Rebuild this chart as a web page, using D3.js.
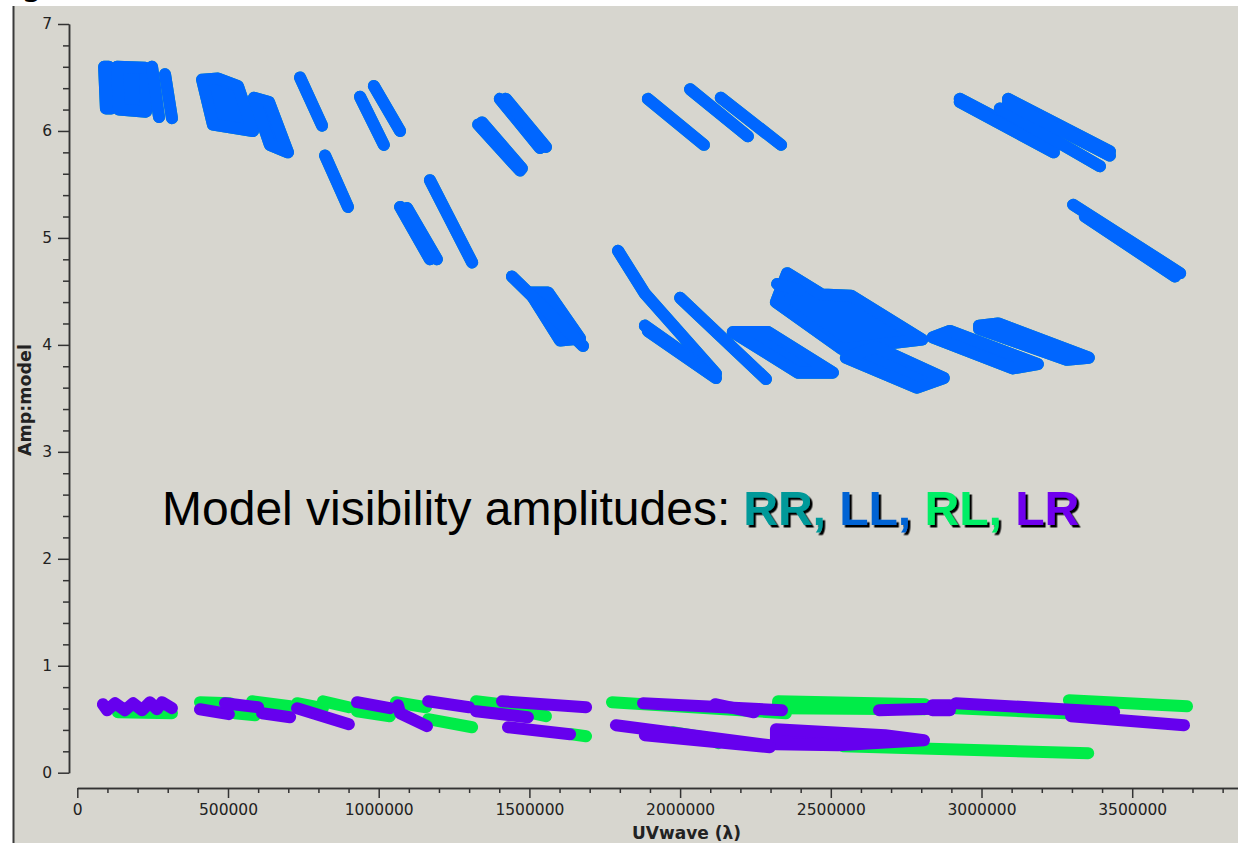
<!DOCTYPE html>
<html><head><meta charset="utf-8">
<script src="https://cdn.jsdelivr.net/npm/d3@7"></script>
<style>
html,body{margin:0;padding:0;background:#fff;}
svg{display:block;}
</style></head>
<body>
<script>
// ---------- data (u in wavelengths, amplitude) ----------
const xTicks = [0, 500000, 1000000, 1500000, 2000000, 2500000, 3000000, 3500000];
const yTicks = [0, 1, 2, 3, 4, 5, 6, 7];
const polNames = ["RR", "LL", "RL", "LR"];

// LL: thin tracks (polylines) and broad bands (closed polygons)
const llLines = [
  [[248000,6.60],[271000,6.13]],
  [[291000,6.53],[314000,6.12]],
  [[739000,6.50],[812000,6.05]],
  [[822000,5.77],[898000,5.29]],
  [[938000,6.32],[1017000,5.87]],
  [[984000,6.42],[1071000,6.00]],
  [[1071000,5.29],[1170000,4.80]],
  [[1094000,5.28],[1193000,4.80]],
  [[1170000,5.54],[1310000,4.77]],
  [[1330000,6.06],[1469000,5.63]],
  [[1343000,6.08],[1475000,5.65]],
  [[1402000,6.30],[1535000,5.84]],
  [[1422000,6.30],[1555000,5.85]],
  [[1442000,4.64],[1678000,3.99]],
  [[1794000,4.88],[1883000,4.48],[2119000,3.73]],
  [[1883000,4.18],[2109000,3.73]],
  [[1893000,4.13],[2119000,3.69]],
  [[2000000,4.44],[2285000,3.68]],
  [[2322000,4.57],[2398000,4.51]],
  [[1893000,6.30],[2079000,5.87]],
  [[2033000,6.39],[2225000,5.95]],
  [[2135000,6.31],[2335000,5.87]],
  [[2928000,6.30],[3240000,5.84]],
  [[2928000,6.27],[3240000,5.80]],
  [[3061000,6.21],[3393000,5.67]],
  [[3088000,6.30],[3426000,5.81]],
  [[3088000,6.26],[3426000,5.77]],
  [[3304000,5.31],[3659000,4.67]],
  [[3343000,5.20],[3642000,4.64]]
];
const llBands = [
  [[89000,6.60],[105000,6.60],[112000,6.21],[95000,6.21]],
  [[132000,6.60],[225000,6.59],[228000,6.18],[138000,6.20]],
  [[414000,6.48],[467000,6.49],[533000,6.42],[583000,6.00],[450000,6.06]],
  [[586000,6.31],[636000,6.27],[699000,5.80],[639000,5.87]],
  [[1502000,4.49],[1562000,4.49],[1668000,4.06],[1602000,4.04]],
  [[2175000,4.12],[2292000,4.12],[2507000,3.74],[2391000,3.74]],
  [[2355000,4.67],[2471000,4.47],[2567000,4.46],[2803000,4.05],[2537000,3.96],[2318000,4.40]],
  [[2650000,3.98],[2875000,3.69],[2786000,3.60],[2550000,3.88]],
  [[2895000,4.13],[3187000,3.82],[3104000,3.78],[2838000,4.07]],
  [[2992000,4.18],[3055000,4.20],[3356000,3.88],[3283000,3.86],[2992000,4.15]]
];
// RR model amplitudes coincide with LL and are hidden beneath them
const rrLines = llLines;
const rrBands = llBands;

// RL (green)
const rlLines = [
  [[135000,0.565],[314000,0.556]],
  [[407000,0.659],[507000,0.650]],
  [[523000,0.556],[590000,0.537]],
  [[580000,0.668],[706000,0.621]],
  [[729000,0.650],[815000,0.603]],
  [[815000,0.668],[901000,0.612]],
  [[928000,0.575],[1037000,0.528]],
  [[1057000,0.659],[1157000,0.612]],
  [[1164000,0.500],[1310000,0.425]],
  [[1323000,0.668],[1495000,0.612]],
  [[1509000,0.556],[1555000,0.528]],
  [[1641000,0.360],[1688000,0.341]],
  [[1774000,0.659],[2351000,0.556]],
  [[2915000,0.603],[3426000,0.537]],
  [[3290000,0.678],[3682000,0.621]],
  [[1976000,0.378],[2096000,0.322]],
  [[2109000,0.304],[2126000,0.276]],
  [[2540000,0.248],[3354000,0.182]]
];
const rlBands = [
  [[2325000,0.668],[2812000,0.640],[2812000,0.593],[2325000,0.603]]
];

// LR (purple)
const lrLines = [
  [[85000,0.640],[99000,0.584],[125000,0.650],[158000,0.584],[185000,0.650],[215000,0.584],[241000,0.659],[264000,0.593],[281000,0.659],[314000,0.603]],
  [[407000,0.593],[503000,0.547]],
  [[490000,0.650],[600000,0.612]],
  [[613000,0.556],[706000,0.519]],
  [[729000,0.603],[901000,0.453]],
  [[928000,0.659],[1037000,0.603]],
  [[1064000,0.631],[1071000,0.556],[1160000,0.435]],
  [[1164000,0.668],[1300000,0.612]],
  [[1323000,0.575],[1495000,0.519]],
  [[1409000,0.668],[1688000,0.612]],
  [[1429000,0.425],[1635000,0.360]],
  [[1877000,0.650],[2338000,0.584]],
  [[2116000,0.640],[2245000,0.565]],
  [[2660000,0.584],[2895000,0.603]],
  [[2915000,0.650],[3440000,0.565]],
  [[3297000,0.584],[3426000,0.556]],
  [[3297000,0.528],[3672000,0.444]],
  [[1787000,0.444],[2298000,0.257]],
  [[1883000,0.350],[2298000,0.238]]
];
const lrBands = [
  [[2837000,0.631],[2895000,0.631],[2895000,0.584],[2837000,0.584]],
  [[2318000,0.407],[2680000,0.350],[2809000,0.304],[2524000,0.257],[2318000,0.266]]
];

// ---------- drawing ----------
const W = 1238, H = 843;
const svg = d3.select("body").append("svg").attr("width", W).attr("height", H);
const defs = svg.append("defs");
const f = defs.append("filter").attr("id", "shadow").attr("x", "-5%").attr("y", "-20%").attr("width", "115%").attr("height", "150%");
f.append("feDropShadow").attr("dx", 2.5).attr("dy", 2.5).attr("stdDeviation", 0.4)
  .attr("flood-color", "#000").attr("flood-opacity", 1);

svg.append("rect").attr("x", 14).attr("y", 6).attr("width", W - 14).attr("height", H - 6).attr("fill", "#d7d6cf");
svg.append("line").attr("x1", 13.5).attr("x2", 13.5).attr("y1", 6).attr("y2", H)
  .attr("stroke", "#3a3a3a").attr("stroke-width", 2);
svg.append("text").attr("x", 21).attr("y", -5).attr("font-family", "DejaVu Sans")
  .attr("font-size", 34).attr("fill", "#000").text("g");

const x = d3.scaleLinear().domain([0, 3850000]).range([77.3, 1237.7]);
const y = d3.scaleLinear().domain([0, 7]).range([772.7, 24]);

const line = d3.line().x(d => x(d[0])).y(d => y(d[1]));
const plot = svg.append("g");

function drawSeries(lines, bands, color) {
  const g = plot.append("g")
    .attr("stroke", color).attr("stroke-width", 12)
    .attr("stroke-linecap", "round").attr("stroke-linejoin", "round");
  g.selectAll("path.band").data(bands).join("path").attr("class", "band")
    .attr("d", d => line(d) + "Z").attr("fill", color);
  g.selectAll("path.ln").data(lines).join("path").attr("class", "ln")
    .attr("d", line).attr("fill", "none");
}
const plotColors = {RR: "#009999", LL: "#0066ff", RL: "#00ec48", LR: "#6600ee"};
drawSeries(rrLines, rrBands, plotColors.RR);
drawSeries(llLines, llBands, plotColors.LL);
drawSeries(rlLines, rlBands, plotColors.RL);
drawSeries(lrLines, lrBands, plotColors.LR);

// axes
const axisColor = "#333";
const yMinor = d3.range(0, 7.0001, 0.2).filter(v => Math.abs(v - Math.round(v)) > 1e-6);
const gy = svg.append("g").attr("transform", "translate(69,0)");
gy.append("g").call(d3.axisLeft(y).tickValues(yMinor).tickSize(6).tickSizeOuter(0).tickFormat(""));
gy.append("g").call(d3.axisLeft(y).tickValues(yTicks).tickSize(11).tickSizeOuter(0).tickPadding(6).tickFormat(d3.format("d")));

const xMinor = d3.range(0, 3850000, 100000).filter(v => v % 500000 !== 0);
const gx = svg.append("g").attr("transform", "translate(0,788)");
gx.append("g").call(d3.axisBottom(x).tickValues(xMinor).tickSize(5).tickSizeOuter(0).tickFormat(""));
gx.append("g").call(d3.axisBottom(x).tickValues(xTicks).tickSize(10).tickSizeOuter(0).tickPadding(6).tickFormat(d3.format("d")));

svg.selectAll(".domain, .tick line").attr("stroke", axisColor).attr("stroke-width", 1.5);
svg.selectAll(".tick text").attr("font-family", "DejaVu Sans").attr("font-size", 15.5).attr("fill", "#222");

svg.append("text").attr("x", 741).attr("y", 839).attr("text-anchor", "end")
  .attr("font-family", "DejaVu Sans").attr("font-weight", "bold").attr("font-size", 17)
  .attr("fill", "#222").text("UVwave (λ)");
svg.append("text").attr("transform", "translate(31,400) rotate(-90)").attr("text-anchor", "middle")
  .attr("font-family", "DejaVu Sans").attr("font-weight", "bold").attr("font-size", 17.5)
  .attr("fill", "#222").text("Amp:model");

// annotation
const legendColors = ["#009999", "#0064d4", "#00ee66", "#7000ee"];
const fontFam = "Liberation Sans, Arial, sans-serif";
const t1 = svg.append("text").attr("x", 162).attr("y", 525)
  .attr("font-family", fontFam).attr("font-size", 48).attr("fill", "#000")
  .text("Model visibility amplitudes:");
const len1 = t1.node().getComputedTextLength();
const t2 = svg.append("text").attr("x", 162 + len1 + 13).attr("y", 525)
  .attr("font-family", fontFam).attr("font-size", 48).attr("font-weight", "bold")
  .attr("filter", "url(#shadow)");
polNames.forEach((p, i) => t2.append("tspan").attr("fill", legendColors[i])
  .text(p + (i < polNames.length - 1 ? ", " : "")));
</script>
</body></html>
